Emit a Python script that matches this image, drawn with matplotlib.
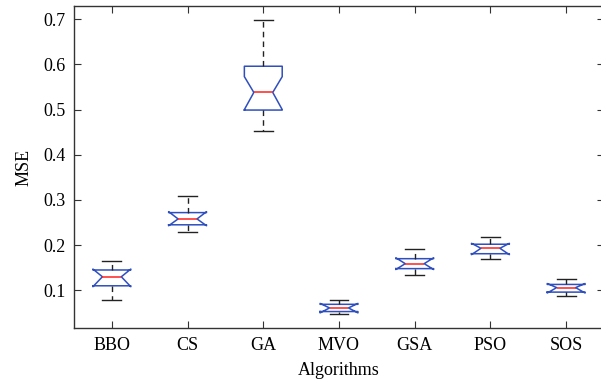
import matplotlib
matplotlib.use("Agg")
import matplotlib.pyplot as plt

algorithms = ["BBO", "CS", "GA", "MVO", "GSA", "PSO", "SOS"]
whislo = [0.078, 0.230, 0.452, 0.048, 0.133, 0.170, 0.087]
q1     = [0.110, 0.245, 0.499, 0.053, 0.148, 0.181, 0.096]
med    = [0.130, 0.258, 0.538, 0.061, 0.159, 0.193, 0.106]
q3     = [0.145, 0.272, 0.596, 0.069, 0.170, 0.202, 0.113]
whishi = [0.164, 0.309, 0.698, 0.079, 0.191, 0.218, 0.124]
cilo   = [0.108, 0.243, 0.500, 0.050, 0.146, 0.179, 0.094]
cihi   = [0.147, 0.274, 0.573, 0.071, 0.172, 0.204, 0.115]

plt.rcParams['font.family'] = ['Liberation Serif', 'DejaVu Serif']

fig = plt.figure(figsize=(6.01, 3.91), dpi=100)
ax = fig.add_axes([74/601, 1 - 328.3/391, (604-74)/601, (328.3-5.7)/391])

stats = []
for i, name in enumerate(algorithms):
    stats.append(dict(label=name, whislo=whislo[i], q1=q1[i], med=med[i],
                      q3=q3[i], whishi=whishi[i], cilo=cilo[i], cihi=cihi[i],
                      fliers=[]))

ax.bxp(stats, positions=range(1, len(algorithms) + 1), widths=0.5,
       shownotches=True, showfliers=False,
       boxprops=dict(color='#2f4fbf', linewidth=1.1),
       medianprops=dict(color='#ff2020', linewidth=1.1),
       whiskerprops=dict(color='#222222', linewidth=1.0, linestyle=(0, (4, 3))),
       capprops=dict(color='#222222', linewidth=1.0))

ax.set_xlim(0.5, 7.5)
ax.set_ylim(0.0159, 0.730)
ax.set_yticks([0.1, 0.2, 0.3, 0.4, 0.5, 0.6, 0.7])
ax.set_yticklabels(["0.1", "0.2", "0.3", "0.4", "0.5", "0.6", "0.7"])
ax.set_xticks(range(1, len(algorithms) + 1))
ax.set_xticklabels(algorithms)
ax.tick_params(direction='in', length=5, width=0.8, top=True, right=True,
               labelsize=13, color='#333333', pad=6)
for s in ax.spines.values():
    s.set_linewidth(1.0)
    s.set_color('#333333')
ax.spines['right'].set_visible(False)
ax.set_xlabel("Algorithms", fontsize=13, labelpad=6)
ax.set_ylabel("MSE", fontsize=13, labelpad=8)

fig.savefig("out.png", dpi=100)
